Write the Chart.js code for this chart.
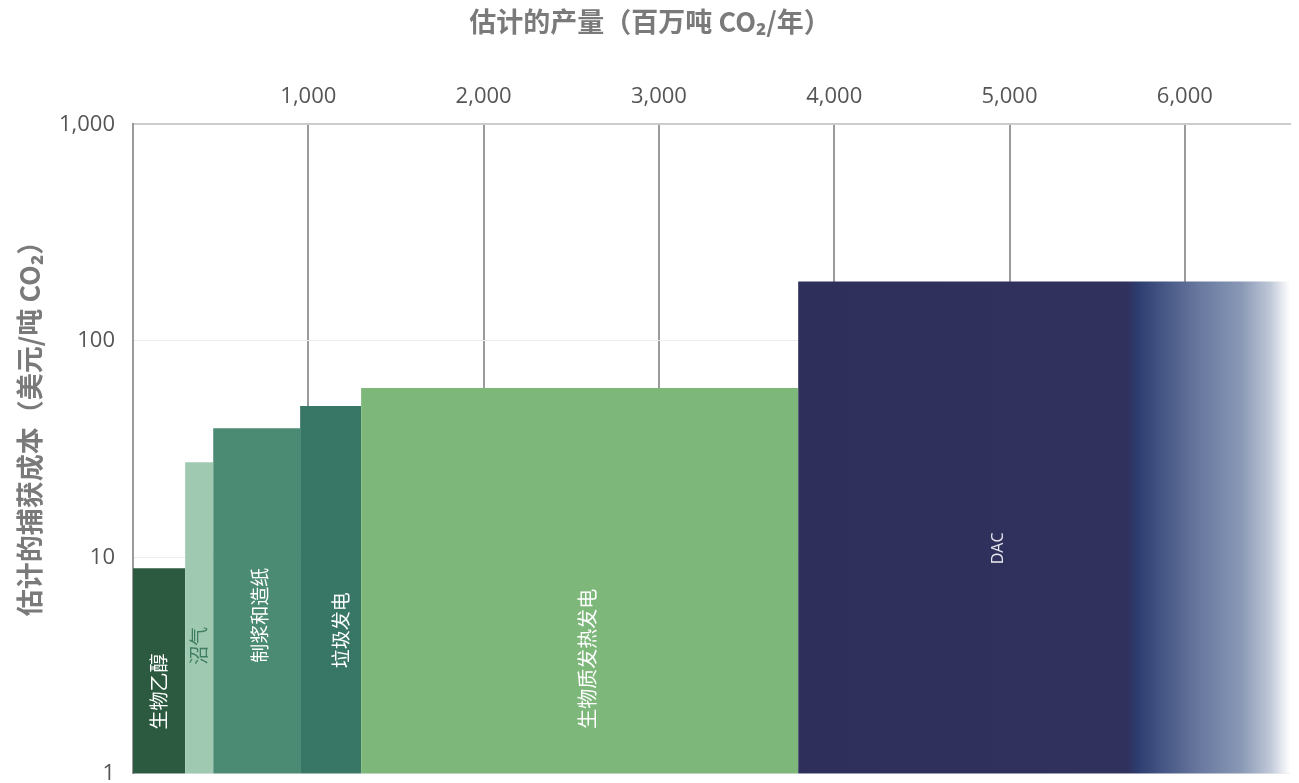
<!DOCTYPE html>
<html>
<head>
<meta charset="utf-8">
<script src="https://cdn.jsdelivr.net/npm/chart.js@4/dist/chart.umd.min.js"></script>
<style>
  html, body { margin: 0; padding: 0; background: #fff; overflow: hidden; }
  #wrap { width: 1299px; height: 805px; }
</style>
</head>
<body>
<div id="wrap"><canvas id="myChart"></canvas></div>
<script>
// 数据
const categories = ['生物乙醇', '沼气', '制浆和造纸', '垃圾发电', '生物质发热发电', 'DAC'];
const volumeStart = [0, 297, 457, 953, 1301, 3794];     // 百万吨 CO2/年
const volumeEnd   = [297, 457, 953, 1301, 3794, 6600];
const captureCost = [8.9, 27.5, 39.5, 50, 60.5, 188];   // 美元/吨 CO2
const xTicks = [1000, 2000, 3000, 4000, 5000, 6000];
const yTicks = [1, 10, 100, 1000];

// 标签位置与样式
const labelX = [149, 377, 726, 1183, 2592, 4936];
const labelY = [2.4, 3.9, 5.4, 4.6, 3.4, 11];
const barColors = ['#2c5a40', '#a0c9b1', '#4b8b73', '#387666', '#7db77a', '#2f2f5c'];
const labelColors = ['#ffffff', '#3f7d62', '#ffffff', '#ffffff', '#ffffff', '#e8e8f0'];
const labelSizes = [19, 19, 19, 19, 20, 16];

const FONT = '"Open Sans", "Noto Sans CJK SC", sans-serif';
const CJK = '"Noto Sans CJK SC", "Open Sans", sans-serif';

const dacFill = (ctx) => {
  const chart = ctx.chart;
  if (!chart.chartArea) return barColors[5];
  const xs = chart.scales.x;
  const x0 = xs.getPixelForValue(volumeStart[5]);
  const x1 = xs.getPixelForValue(volumeEnd[5]);
  const g = chart.ctx.createLinearGradient(x0, 0, x1, 0);
  g.addColorStop(0, '#2f2f5c');
  g.addColorStop(0.67, '#31315e');
  g.addColorStop(0.69, '#2c3d6f');
  g.addColorStop(0.75, '#4a5a88');
  g.addColorStop(0.82, '#6a7aa0');
  g.addColorStop(0.90, '#8898b5');
  g.addColorStop(0.96, '#c0c8d8');
  g.addColorStop(1, '#ffffff');
  return g;
};

const datasets = categories.map((name, i) => ({
  label: name,
  data: [{ x: volumeStart[i], y: captureCost[i] }, { x: volumeEnd[i], y: captureCost[i] }],
  backgroundColor: i === 5 ? dacFill : barColors[i],
  borderWidth: 0,
  pointRadius: 0,
  fill: 'start',
  tension: 0
}));

// 标题与条形标签
const textPlugin = {
  id: 'texts',
  afterDatasetsDraw(chart) {
    const { ctx, scales } = chart;
    ctx.save();
    categories.forEach((name, i) => {
      const px = scales.x.getPixelForValue(labelX[i]);
      const py = scales.y.getPixelForValue(labelY[i]);
      ctx.save();
      ctx.translate(px, py);
      ctx.rotate(-Math.PI / 2);
      ctx.fillStyle = labelColors[i];
      ctx.font = labelSizes[i] + 'px ' + (i === 5 ? FONT : CJK);
      ctx.textAlign = 'center';
      ctx.textBaseline = 'middle';
      ctx.fillText(name, 0, 0);
      ctx.restore();
    });
    // 横轴标题
    ctx.fillStyle = '#7a7a7a';
    ctx.font = 'bold 27px ' + CJK;
    ctx.textAlign = 'center';
    ctx.textBaseline = 'middle';
    ctx.fillText('估计的产量（百万吨 CO₂/年）', 650, 22);
    // 纵轴标题
    ctx.translate(30, 422);
    ctx.rotate(-Math.PI / 2);
    ctx.fillText('估计的捕获成本（美元/吨 CO₂）', 0, 0);
    ctx.restore();
  }
};

new Chart(document.getElementById('myChart'), {
  type: 'line',
  data: { datasets },
  options: {
    responsive: true,
    maintainAspectRatio: false,
    animation: false,
    layout: { padding: { left: 41, top: 70, right: 9, bottom: 0 } },
    plugins: { legend: { display: false }, tooltip: { enabled: false }, title: { display: false } },
    scales: {
      x: {
        type: 'linear',
        position: 'top',
        min: 0,
        max: 6600,
        afterBuildTicks: (axis) => { axis.ticks = [0].concat(xTicks).map(v => ({ value: v })); },
        ticks: {
          callback: (v) => v === 0 ? '' : v.toLocaleString('en-US'),
          color: '#555',
          font: { family: FONT, size: 22 },
          padding: 14,
          maxRotation: 0
        },
        grid: { color: '#9a9a9a', lineWidth: 2, drawTicks: false },
        border: { color: '#cccccc', width: 2 }
      },
      y: {
        type: 'logarithmic',
        min: 1,
        max: 1000,
        afterBuildTicks: (axis) => { axis.ticks = yTicks.map(v => ({ value: v })); },
        ticks: {
          callback: (v) => Number(v).toLocaleString('en-US'),
          color: '#555',
          font: { family: FONT, size: 22 },
          padding: 18
        },
        grid: { color: '#ececec', lineWidth: 1, drawTicks: false },
        border: { color: '#9a9a9a', width: 2 }
      }
    }
  },
  plugins: [textPlugin]
});
</script>
</body>
</html>
